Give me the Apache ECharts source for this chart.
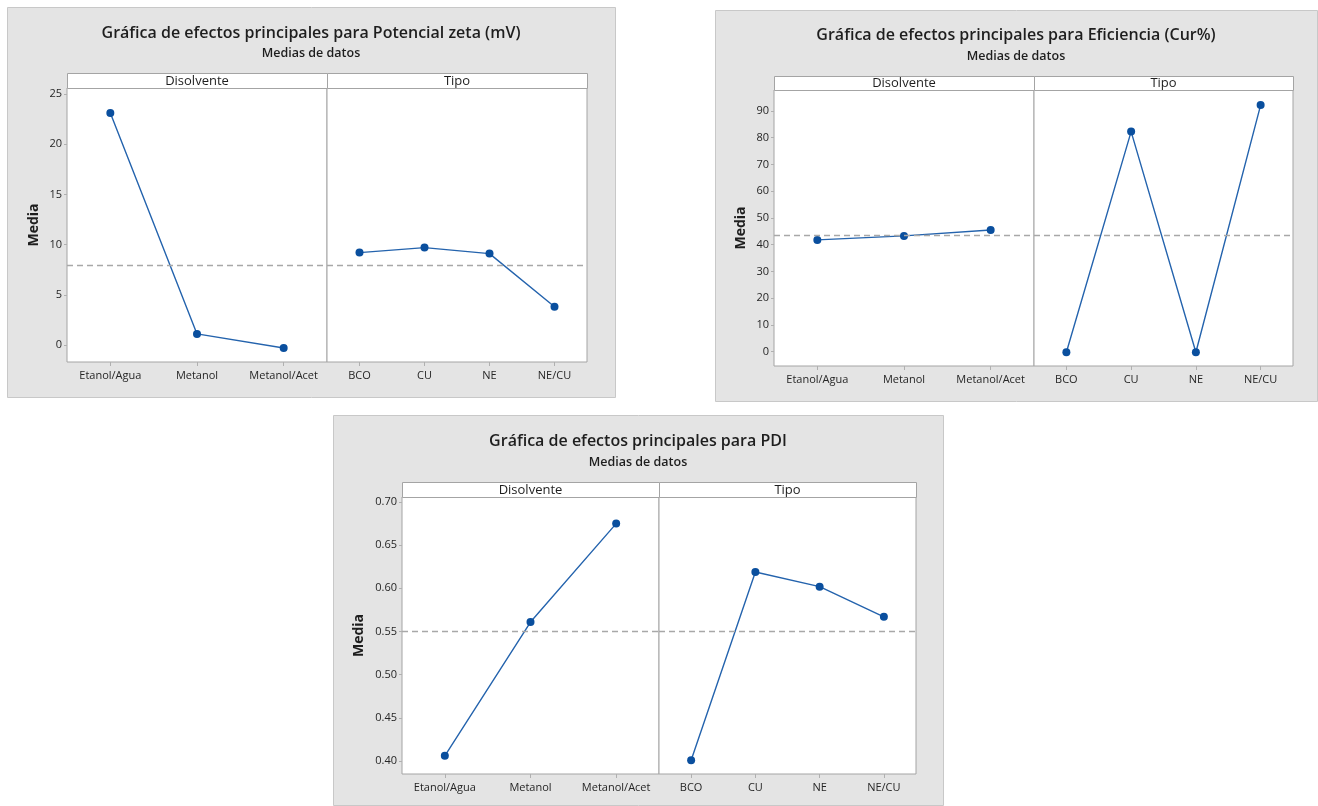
<!DOCTYPE html>
<html>
<head>
<meta charset="utf-8">
<script src="https://cdn.jsdelivr.net/npm/echarts@6/dist/echarts.min.js"></script>
<style>
  html, body { margin: 0; padding: 0; background: #ffffff; }
  #chart { width: 1318px; height: 806px; }
</style>
</head>
<body>
<div id="chart"></div>
<script>
// Factor levels
const disolventeLevels = ['Etanol/Agua', 'Metanol', 'Metanol/Acet'];
const tipoLevels = ['BCO', 'CU', 'NE', 'NE/CU'];

// Potencial zeta (mV): level means and overall mean
const zetaDisolvente = [23.1, 1.1, -0.3];
const zetaTipo = [9.2, 9.7, 9.1, 3.8];
const zetaMean = 7.95;
const zetaTicks = [0, 5, 10, 15, 20, 25];

// Eficiencia (Cur%)
const eficDisolvente = [41.8, 43.3, 45.5];
const eficTipo = [-0.2, 82.3, -0.2, 92.2];
const eficMean = 43.6;
const eficTicks = [0, 10, 20, 30, 40, 50, 60, 70, 80, 90];

// PDI
const pdiDisolvente = [0.406, 0.561, 0.675];
const pdiTipo = [0.401, 0.619, 0.602, 0.567];
const pdiMean = 0.548;
const pdiTicks = [0.40, 0.45, 0.50, 0.55, 0.60, 0.65, 0.70];

const FONT = '"Open Sans", "Noto Sans", sans-serif';
const TEXT = '#262626';
const FRAME = '#a4a4a4';
const LINE = '#2463ad';
const DOT = '#0a4f9e';

// Layout of the three main-effects panels
const panels = [
  {
    title: 'Gráfica de efectos principales para Potencial zeta (mV)',
    box: [7, 7, 608, 390], titleY: 33, subY: 53,
    stripTop: 73, plotLeft: 67, leftW: 260, rightW: 260, plotTop: 88, plotH: 274,
    yMin: -1.7, yMax: 25.6, ticks: zetaTicks, dec: 0, nameGap: 26,
    left: zetaDisolvente, right: zetaTipo, mean: zetaMean
  },
  {
    title: 'Gráfica de efectos principales para Eficiencia (Cur%)',
    box: [715, 10, 602, 391], titleY: 35, subY: 56,
    stripTop: 76, plotLeft: 774, leftW: 260, rightW: 259, plotTop: 90, plotH: 276,
    yMin: -5.35, yMax: 97.85, ticks: eficTicks, dec: 0, nameGap: 26,
    left: eficDisolvente, right: eficTipo, mean: eficMean
  },
  {
    title: 'Gráfica de efectos principales para PDI',
    box: [333, 415, 610, 390], titleY: 441, subY: 462,
    stripTop: 482, plotLeft: 402, leftW: 257, rightW: 257, plotTop: 497, plotH: 277,
    yMin: 0.385, yMax: 0.7058, ticks: pdiTicks, dec: 2, nameGap: 36,
    left: pdiDisolvente, right: pdiTipo, mean: pdiMean
  }
];

const grid = [], xAxis = [], yAxis = [], series = [], graphic = [];

panels.forEach(function (p) {
  const [bx, by, bw, bh] = p.box;
  const cx = bx + bw / 2;

  graphic.push({
    type: 'rect', z: -100,
    shape: { x: bx + 0.5, y: by + 0.5, width: bw, height: bh },
    style: { fill: '#e4e4e4', stroke: '#c8c8c8', lineWidth: 1 }
  });
  graphic.push({
    type: 'text', z: 10,
    style: { text: p.title, x: cx, y: p.titleY, align: 'center', verticalAlign: 'middle',
             font: '600 16px ' + FONT, fill: '#1e1e1e' }
  });
  graphic.push({
    type: 'text', z: 10,
    style: { text: 'Medias de datos', x: cx, y: p.subY, align: 'center', verticalAlign: 'middle',
             font: '600 12.5px ' + FONT, fill: '#1e1e1e' }
  });

  const facets = [
    { label: 'Disolvente', levels: disolventeLevels, values: p.left, x: p.plotLeft, w: p.leftW, first: true },
    { label: 'Tipo', levels: tipoLevels, values: p.right, x: p.plotLeft + p.leftW, w: p.rightW, first: false }
  ];

  facets.forEach(function (f) {
    const gi = grid.length;
    const stripH = p.plotTop - p.stripTop;
    graphic.push({
      type: 'rect', z: 5,
      shape: { x: f.x + 0.5, y: p.stripTop + 0.5, width: f.w, height: stripH },
      style: { fill: '#ffffff', stroke: FRAME, lineWidth: 1 }
    });
    graphic.push({
      type: 'text', z: 10,
      style: { text: f.label, x: f.x + f.w / 2, y: p.stripTop + stripH / 2 + 0.5,
               align: 'center', verticalAlign: 'middle',
               font: '500 13px ' + FONT, fill: '#1e1e1e' }
    });

    grid.push({
      left: f.x, top: p.plotTop, width: f.w, height: p.plotH,
      show: true, backgroundColor: '#ffffff', borderColor: FRAME, borderWidth: 1
    });
    xAxis.push({
      type: 'category', gridIndex: gi, data: f.levels, boundaryGap: true,
      position: 'bottom',
      axisLine: { show: false, onZero: false },
      axisTick: { show: true, alignWithLabel: true, length: 4, lineStyle: { color: '#b0b0b0' } },
      axisLabel: { interval: 0, margin: 8, fontSize: 11, fontFamily: FONT, color: TEXT }
    });
    yAxis.push({
      type: 'value', gridIndex: gi, min: p.yMin, max: p.yMax,
      splitLine: { show: false },
      axisLine: { show: false, onZero: false },
      axisTick: { show: f.first, length: 3, customValues: p.ticks, lineStyle: { color: '#b0b0b0' } },
      axisLabel: {
        show: f.first, customValues: p.ticks, margin: 5,
        fontSize: 11, fontFamily: FONT, color: TEXT,
        formatter: function (v) { return Number(v).toFixed(p.dec); }
      },
      name: f.first ? 'Media' : '',
      nameLocation: 'middle', nameRotate: 90, nameGap: p.nameGap,
      nameTextStyle: { fontSize: 14, fontWeight: 'bold', fontFamily: FONT, color: '#1e1e1e' }
    });
    series.push({
      type: 'line', xAxisIndex: gi, yAxisIndex: gi, data: f.values,
      symbol: 'circle', symbolSize: 8, showSymbol: true,
      lineStyle: { color: LINE, width: 1.4 },
      itemStyle: { color: DOT },
      z: 3,
      markLine: {
        silent: true, symbol: 'none', label: { show: false },
        lineStyle: { color: '#a8a8a8', type: [6, 4], width: 1.3 },
        data: [{ yAxis: p.mean }]
      }
    });
  });
});

const chart = echarts.init(document.getElementById('chart'), null, { renderer: 'canvas' });
chart.setOption({
  animation: false,
  backgroundColor: '#ffffff',
  grid: grid, xAxis: xAxis, yAxis: yAxis, series: series, graphic: graphic
});
</script>
</body>
</html>
